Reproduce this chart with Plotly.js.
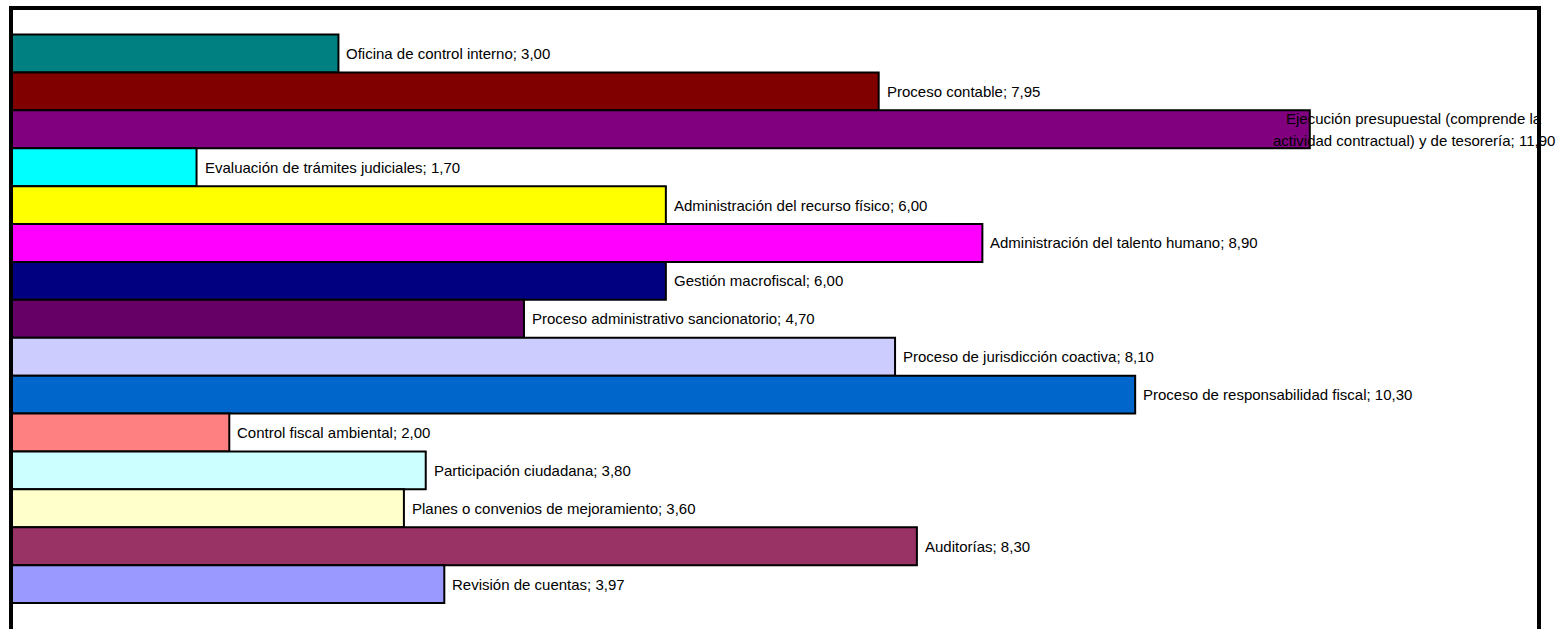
<!DOCTYPE html>
<html>
<head>
<meta charset="utf-8">
<script src="https://cdn.plot.ly/plotly-3.0.1.min.js"></script>
<style>
html,body{margin:0;padding:0;background:#fff;}
#chart{width:1556px;height:629px;}
</style>
</head>
<body>
<div id="chart"></div>
<script>
const categories = [
  "Oficina de control interno",
  "Proceso contable",
  "Ejecución presupuestal (comprende la actividad contractual) y de tesorería",
  "Evaluación de trámites judiciales",
  "Administración del recurso físico",
  "Administración del talento humano",
  "Gestión macrofiscal",
  "Proceso administrativo sancionatorio",
  "Proceso de jurisdicción coactiva",
  "Proceso de responsabilidad fiscal",
  "Control fiscal ambiental",
  "Participación ciudadana",
  "Planes o convenios de mejoramiento",
  "Auditorías",
  "Revisión de cuentas"
];
const values = [3.00, 7.95, 11.90, 1.70, 6.00, 8.90, 6.00, 4.70, 8.10, 10.30, 2.00, 3.80, 3.60, 8.30, 3.97];
const colors = ["#008080","#800000","#800080","#00FFFF","#FFFF00","#FF00FF","#000080","#660066",
                "#CCCCFF","#0066CC","#FF8080","#CCFFFF","#FFFFCC","#993366","#9999FF"];

function fmt(v){ return v.toFixed(2).replace('.', ','); }

const trace = {
  type: 'bar',
  orientation: 'h',
  x: values,
  y: categories,
  marker: {color: colors, line: {color: '#000', width: 2}},
  hoverinfo: 'x+y'
};

const font = {family: 'Liberation Sans, Arial, sans-serif', size: 15, color: '#000'};
const annotations = [];
categories.forEach((c, i) => {
  const label = c + '; ' + fmt(values[i]);
  if (i === 2) {
    const cut = label.indexOf('la ') + 2;
    annotations.push({x: values[i], y: c, xref: 'x', yref: 'y', text: label.slice(0, cut),
      showarrow: false, xanchor: 'center', xshift: 104, yshift: 10.5, font: font});
    annotations.push({x: values[i], y: c, xref: 'x', yref: 'y', text: label.slice(cut + 1),
      showarrow: false, xanchor: 'center', xshift: 104, yshift: -11, font: font});
  } else {
    annotations.push({x: values[i], y: c, xref: 'x', yref: 'y', text: label,
      showarrow: false, xanchor: 'left', xshift: 6, font: font});
  }
});

const layout = {
  width: 1556, height: 629,
  margin: {l: 11, r: 17, t: 8, b: 0, pad: 0},
  paper_bgcolor: '#fff', plot_bgcolor: '#fff',
  showlegend: false,
  bargap: 0,
  xaxis: {range: [0, 14], showgrid: false, zeroline: false, showticklabels: false, ticks: '', showline: false},
  yaxis: {type: 'category', range: [15.185, -1.2], showgrid: false, zeroline: false, showticklabels: false, ticks: '', showline: false},
  annotations: annotations,
  shapes: [{type: 'rect', xref: 'paper', yref: 'paper', x0: 0, x1: 1, y0: -0.03, y1: 1,
            line: {color: '#000', width: 4}, layer: 'above'}]
};

Plotly.newPlot('chart', [trace], layout, {displayModeBar: false, staticPlot: true});
</script>
</body>
</html>
